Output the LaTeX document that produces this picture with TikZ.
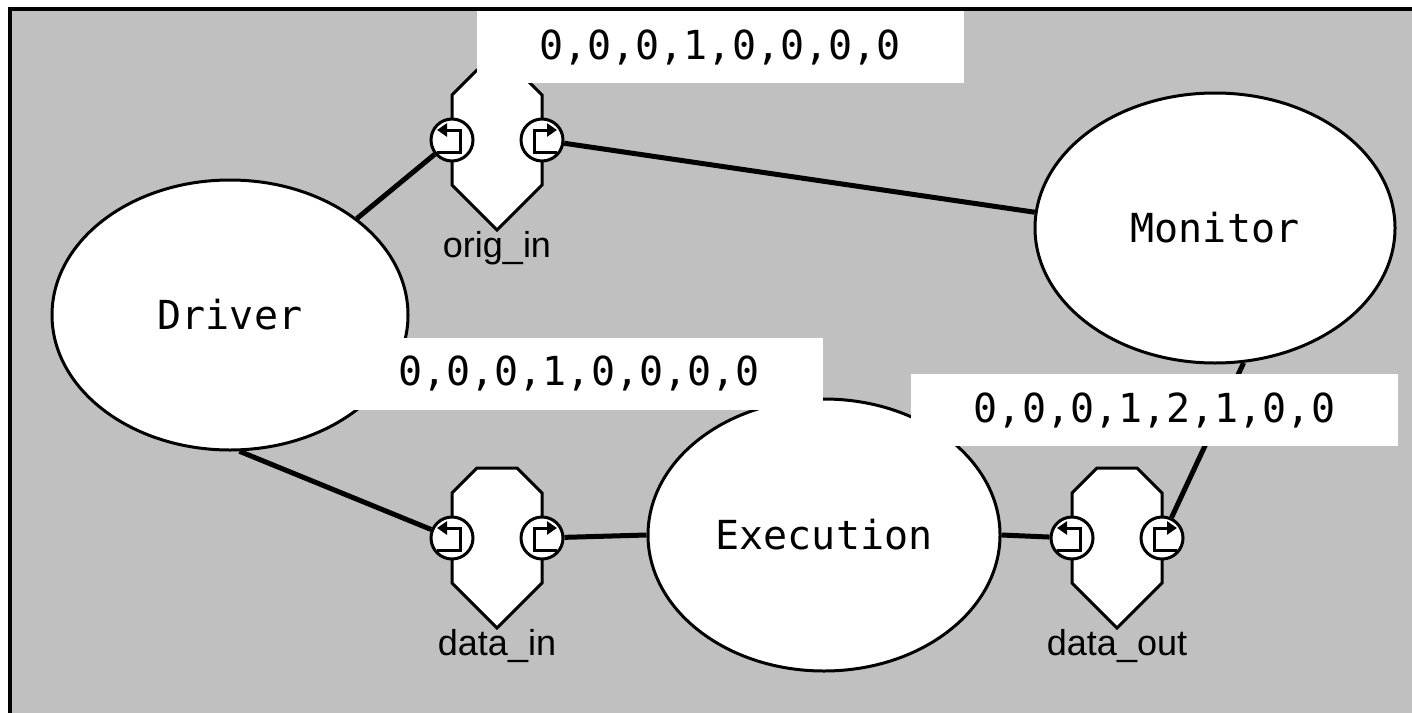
\documentclass[tikz,border=0pt]{standalone}
\usepackage{fontspec}
\setmainfont{Liberation Sans}
\setmonofont{DejaVu Sans Mono}
\usetikzlibrary{shapes.geometric,arrows.meta}
\definecolor{panel}{RGB}{192,192,192}
\tikzset{
  proc/.style={ellipse, draw=black, line width=1.5pt, fill=white, inner sep=0pt, font=\ttfamily\fontsize{20}{24}\selectfont},
  port/.style={circle, draw=black, line width=1.5pt, fill=white, minimum size=21pt, inner sep=0pt},
  pinbody/.style={draw=black, line width=1.5pt, fill=white},
  icon/.style={line width=1.5pt, -{Triangle[length=5pt,width=6.5pt]}},
  wire/.style={line width=2.5pt},
  vecbox/.style={fill=white, minimum width=243.5pt, minimum height=36pt, inner sep=0pt, font=\ttfamily\fontsize{20}{24}\selectfont},
  pinname/.style={font=\fontsize{18}{22}\selectfont}
}
\begin{document}
\begin{tikzpicture}[x=0.5pt,y=-0.5pt]
\useasboundingbox (0,0) rectangle (1412,712);
\clip (0,0) rectangle (1412,712);
\draw[fill=panel, line width=2pt] (10,9) rectangle (1440,740);

% processes
\node[proc, minimum width=178pt, minimum height=135pt] (drv) at (230,315) {Driver};
\node[proc, minimum width=180pt, minimum height=135pt] (mon) at (1215,228) {Monitor};
\node[proc, minimum width=176pt, minimum height=136pt] (exe) at (824,535) {Execution};

% pins with their in/out ports
\foreach \n/\x/\y/\t in {oi/497/140/orig\_in, di/497/538/data\_in, do/1117/538/data\_out}{
  \draw[pinbody] (\x-20,\y-70) -- (\x+20,\y-70) -- (\x+45,\y-45) -- (\x+45,\y+45)
    -- (\x,\y+90) -- (\x-45,\y+45) -- (\x-45,\y-45) -- cycle;
  \node[port] (\n-l) at (\x-45,\y) {};
  \node[port] (\n-r) at (\x+45,\y) {};
  \draw[icon] ([shift={(-15,12)}]\n-l.center) -| ([shift={(8,-10)}]\n-l.center) -- ([shift={(-15,-10)}]\n-l.center);
  \draw[icon] ([shift={(15,12)}]\n-r.center) -| ([shift={(-8,-10)}]\n-r.center) -- ([shift={(15,-10)}]\n-r.center);
  \node[pinname] (\n-t) at (\x,\y+108) {\t};
}

% wires
\draw[wire] (drv.north east) -- (oi-l);
\draw[wire] (oi-r) -- (mon.175);
\draw[wire] (drv.-86) -- (di-l);
\draw[wire] (di-r) -- (exe.west);
\draw[wire] (exe.east) -- (do-l);
\draw[wire] (do-r) -- (mon.-78);

% vectors
\node[vecbox] (v1) at (720,47) {0,0,0,1,0,0,0,0};
\node[vecbox] (v2) at (579,373.5) {0,0,0,1,0,0,0,0};
\node[vecbox] (v3) at (1154.5,410) {0,0,0,1,2,1,0,0};
\end{tikzpicture}
\end{document}
